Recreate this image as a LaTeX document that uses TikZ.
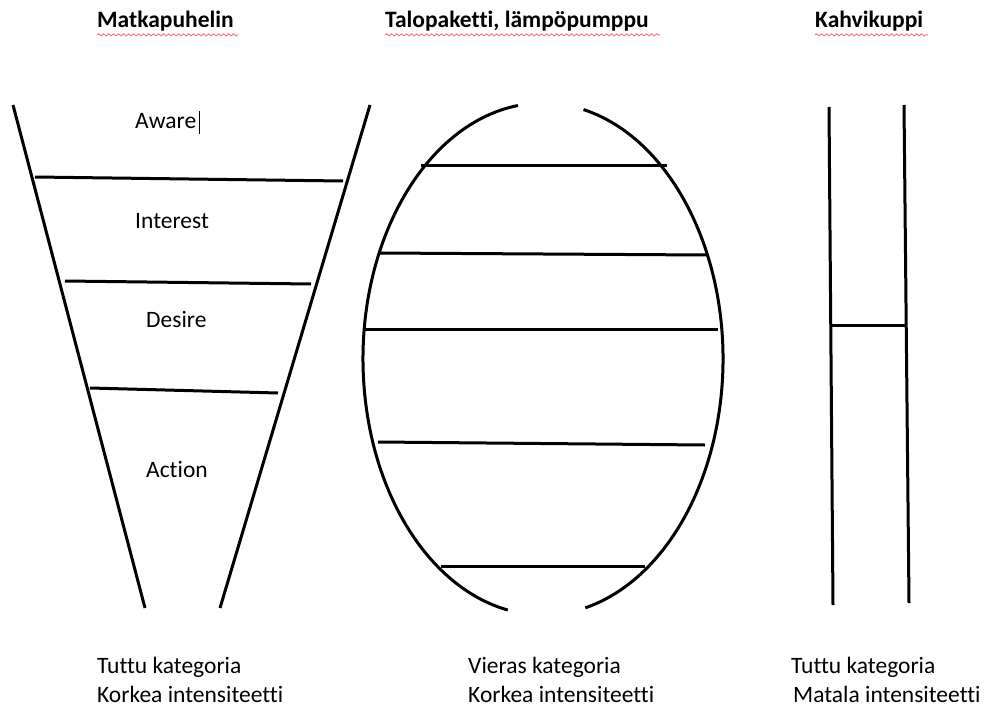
\documentclass[tikz,border=0pt]{standalone}
\usepackage{fontspec}
\setmainfont{Carlito}[Ligatures=NoCommon]
\usetikzlibrary{decorations.pathmorphing}
\begin{document}
\begin{tikzpicture}[x=1pt,y=1pt,
  stroke/.style={line width=3pt,black},
  lbl/.style={anchor=base west,inner sep=0pt,font=\fontsize{23.5}{28}\selectfont},
  ttl/.style={anchor=base west,inner sep=0pt,font=\fontsize{23.5}{28}\selectfont\bfseries},
  squig/.style={red!55,line width=0.9pt,decorate,decoration={snake,amplitude=1.1pt,segment length=5pt}}]
\useasboundingbox (0,0) rectangle (993,-709);
% titles
\node[ttl] (t1) at (97,-28) {Matkapuhelin};
\node[ttl] (t2) at (385,-28) {Talopaketti, lämpöpumppu};
\node[ttl] (t3) at (815,-28) {Kahvikuppi};
\draw[squig] (t1.south west) ++(0,-3) -- ++(141,0);
\draw[squig] (t2.south west) ++(0,-3) -- ++(275,0);
\draw[squig] (t3.south west) ++(0,-3) -- ++(113,0);
% funnel
\draw[stroke] (13,-105) -- (145,-608);
\draw[stroke] (370,-105) -- (220,-608);
\draw[stroke] (35,-177) -- (343,-181);
\draw[stroke] (65,-281) -- (311,-284);
\draw[stroke] (90,-388) -- (278,-393);
\node[lbl] (aw) at (135,-128) {Aware};
\draw[line width=0.8pt] (199,-111) -- (199,-134);
\node[lbl] (in) at (135,-228) {Interest};
\node[lbl] (de) at (146,-327) {Desire};
\node[lbl] (ac) at (146,-477) {Action};
% egg
\draw[stroke] (543,-359) ++(98:180 and 256) arc[start angle=98,end angle=258.7,x radius=180,y radius=256];
\draw[stroke] (543,-359) ++(77:180 and 256) arc[start angle=77,end angle=-76.4,x radius=180,y radius=256];
\draw[stroke] (421,-165) -- (667,-165);
\draw[stroke] (380,-253) -- (707,-255);
\draw[stroke] (363,-329) -- (718,-329);
\draw[stroke] (378,-442) -- (705,-445);
\draw[stroke] (441,-566) -- (645,-566);
% cup
\draw[stroke] (829,-107) -- (833,-605);
\draw[stroke] (904,-105) -- (909,-603);
\draw[stroke] (831,-325) -- (907,-325);
% bottom labels
\node[lbl] (b1) at (97,-673) {Tuttu kategoria};
\node[lbl] (b2) at (97,-702) {Korkea intensiteetti};
\node[lbl] (b3) at (468,-673) {Vieras kategoria};
\node[lbl] (b4) at (468,-702) {Korkea intensiteetti};
\node[lbl] (b5) at (791,-673) {Tuttu kategoria};
\node[lbl] (b6) at (793,-702) {Matala intensiteetti};
\end{tikzpicture}
\end{document}
